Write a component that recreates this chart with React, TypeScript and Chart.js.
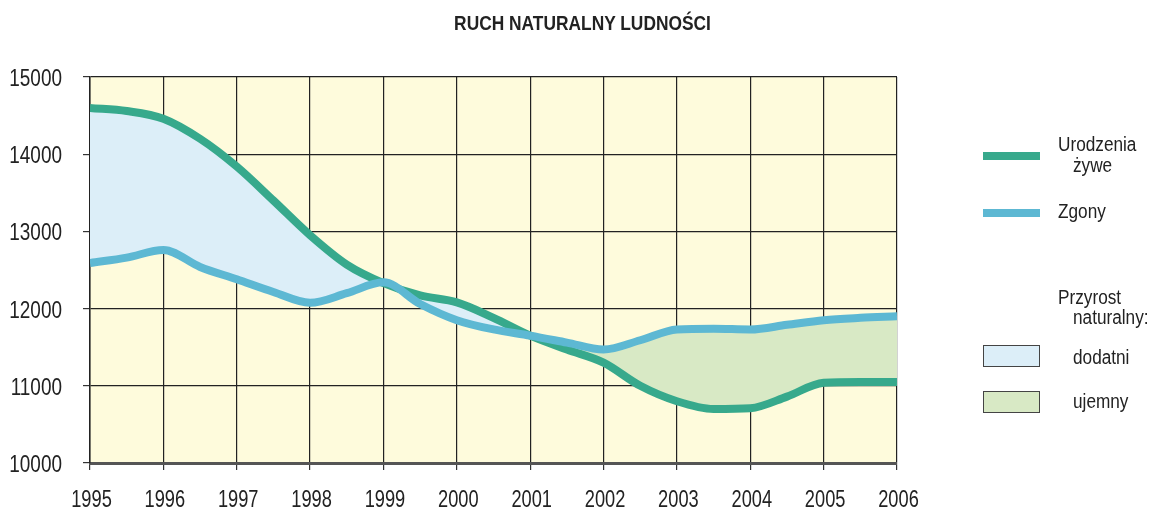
import React, { useEffect, useRef } from "react";
import { Chart, registerables } from "chart.js";

Chart.register(...registerables);

const years: number[] = [
  1995, 1995.5, 1996, 1996.5, 1997, 1997.5, 1998, 1998.5, 1999, 1999.5, 2000, 2000.5,
  2001, 2001.5, 2002, 2002.5, 2003, 2003.5, 2004, 2004.5, 2005, 2005.5, 2006,
];
const births: number[] = [
  14600, 14560, 14460, 14200, 13840, 13400, 12950, 12570, 12330, 12170, 12080, 11880,
  11650, 11470, 11300, 11000, 10800, 10700, 10710, 10860, 11040, 11050, 11050,
];
const deaths: number[] = [
  12590, 12660, 12760, 12540, 12380, 12215, 12075, 12200, 12340, 12060, 11850, 11730,
  11650, 11560, 11470, 11590, 11730, 11740, 11730, 11790, 11850, 11880, 11900,
];
const titleText = "RUCH NATURALNY LUDNOŚCI";
const seriesLabels = ["Urodzenia żywe", "Zgony"];

const FONT = "'Liberation Sans', Arial, sans-serif";
const GREEN = "#37a98c";
const BLUE = "#5db8d3";
const FILL_BLUE = "#dceef8";
const FILL_GREEN = "#d8e9c5";
const BG = "#fefbdc";
const TEXT = "#222";

const bgPlugin = {
  id: "plotBg",
  beforeDraw(chart: any) {
    const { ctx, chartArea } = chart;
    if (!chartArea) return;
    ctx.save();
    ctx.fillStyle = BG;
    ctx.fillRect(chartArea.left, chartArea.top, chartArea.right - chartArea.left, chartArea.bottom - chartArea.top);
    ctx.restore();
  },
};

// Condensed tick labels (narrow font look) drawn from the scales' own ticks
const narrowTicksPlugin = {
  id: "narrowTicks",
  afterDraw(chart: any) {
    const { ctx } = chart;
    const xs = chart.scales.x;
    const ys = chart.scales.y;
    ctx.save();
    ctx.fillStyle = TEXT;
    ctx.font = `24px ${FONT}`;
    ctx.textBaseline = "alphabetic";
    ys.ticks.forEach((t: any) => {
      const py = ys.getPixelForValue(t.value);
      ctx.save();
      ctx.translate(ys.right - 28, py + 9);
      ctx.scale(0.79, 1);
      ctx.textAlign = "right";
      ctx.fillText(String(t.value), 0, 0);
      ctx.restore();
    });
    xs.ticks.forEach((t: any) => {
      const px = xs.getPixelForValue(t.value);
      ctx.save();
      ctx.translate(px + 1.5, xs.top + 44);
      ctx.scale(0.76, 1);
      ctx.textAlign = "center";
      ctx.fillText(String(t.value), 0, 0);
      ctx.restore();
    });
    ctx.restore();
  },
};

export default function App() {
  const ref = useRef<HTMLCanvasElement | null>(null);

  useEffect(() => {
    document.body.style.margin = "0";
    const canvas = ref.current;
    if (!canvas) return;
    const chart = new Chart(canvas, {
      type: "line",
      data: {
        datasets: [
          {
            label: seriesLabels[1],
            data: years.map((x, i) => ({ x, y: deaths[i] })),
            borderColor: BLUE,
            borderWidth: 8,
            pointRadius: 0,
            fill: false,
            cubicInterpolationMode: "monotone",
          },
          {
            label: seriesLabels[0],
            data: years.map((x, i) => ({ x, y: births[i] })),
            borderColor: GREEN,
            borderWidth: 8,
            pointRadius: 0,
            fill: { target: 0, above: FILL_BLUE, below: FILL_GREEN },
            cubicInterpolationMode: "monotone",
          },
        ],
      },
      options: {
        animation: false,
        responsive: false,
        maintainAspectRatio: false,
        layout: { padding: { top: 77, right: 253, left: 0, bottom: 0 } },
        plugins: {
          legend: { display: false },
          tooltip: { enabled: false },
          title: { display: false },
          filler: { drawTime: "beforeDatasetsDraw" },
        } as any,
        scales: {
          x: {
            type: "linear",
            min: 1995,
            max: 2006,
            ticks: { stepSize: 1, display: false },
            grid: { color: "#222", lineWidth: 1.2, tickLength: 7, tickColor: "#333" },
            border: { color: "#555", width: 3 },
            afterFit: (s: any) => { s.height = 45; },
          },
          y: {
            min: 10000,
            max: 15000,
            ticks: { stepSize: 1000, display: false },
            grid: { color: "#222", lineWidth: 1.2, tickLength: 7, tickColor: "#333" },
            border: { color: "#222", width: 1.5 },
            afterFit: (s: any) => { s.width = 90; },
          },
        },
      } as any,
      plugins: [bgPlugin, narrowTicksPlugin],
    });
    return () => chart.destroy();
  }, []);

  const txt: React.CSSProperties = {
    position: "absolute",
    fontFamily: FONT,
    fontSize: 20,
    color: TEXT,
    lineHeight: "22px",
    whiteSpace: "nowrap",
    transform: "scaleX(0.86)",
    transformOrigin: "left center",
  };

  return (
    <div style={{ position: "relative", width: 1150, height: 508, background: "#fff", overflow: "hidden" }}>
      <canvas ref={ref} width={1150} height={508} style={{ position: "absolute", left: 0, top: 0 }} />
      <div
        style={{
          position: "absolute",
          left: 0,
          top: 12,
          width: 1165,
          textAlign: "center",
          fontFamily: FONT,
          fontWeight: "bold",
          fontSize: 19.5,
          lineHeight: "22px",
          color: TEXT,
          transform: "scaleX(0.89)",
          transformOrigin: "582.5px center",
        }}
      >
        {titleText}
      </div>
      <div style={{ position: "absolute", left: 983, top: 152, width: 57, height: 8, background: GREEN }} />
      <div style={{ ...txt, left: 1058, top: 133 }}>Urodzenia</div>
      <div style={{ ...txt, left: 1073, top: 154 }}>żywe</div>
      <div style={{ position: "absolute", left: 983, top: 209, width: 57, height: 8, background: BLUE }} />
      <div style={{ ...txt, left: 1058, top: 200 }}>Zgony</div>
      <div style={{ ...txt, left: 1058, top: 286 }}>Przyrost</div>
      <div style={{ ...txt, left: 1073, top: 306 }}>naturalny:</div>
      <div style={{ position: "absolute", left: 983, top: 345, width: 55, height: 20, background: FILL_BLUE, border: "1px solid #444" }} />
      <div style={{ ...txt, left: 1073, top: 346 }}>dodatni</div>
      <div style={{ position: "absolute", left: 983, top: 391, width: 55, height: 20, background: FILL_GREEN, border: "1px solid #444" }} />
      <div style={{ ...txt, left: 1073, top: 390 }}>ujemny</div>
    </div>
  );
}
